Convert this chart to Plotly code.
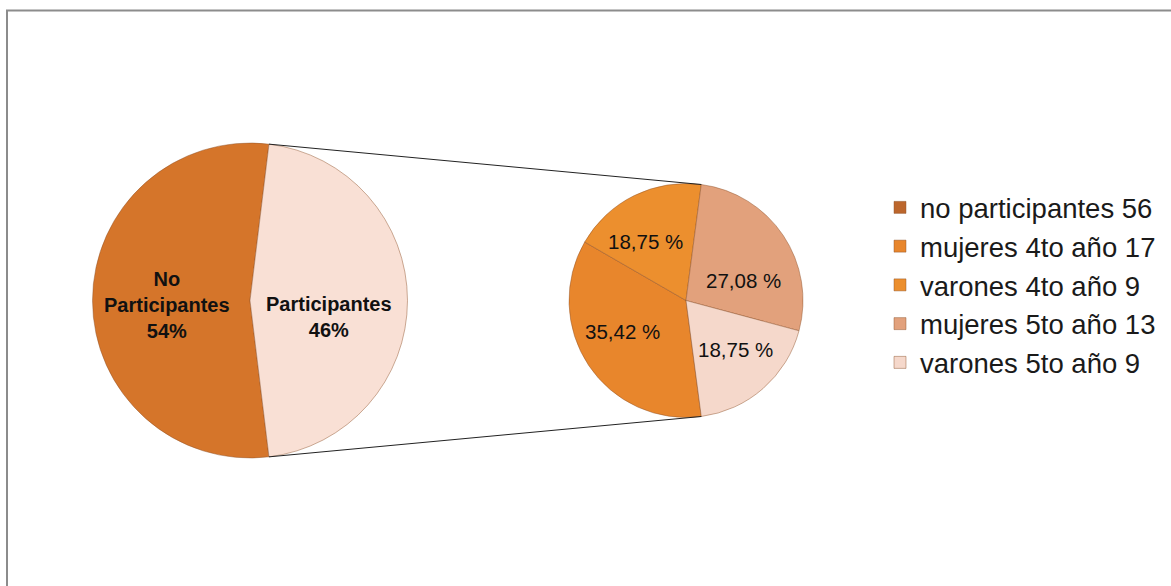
import math
import plotly.graph_objects as go

# Canvas
W, H = 1171, 586

# Main pie: participation overall
main_labels = ["No Participantes", "Participantes"]
main_values = [56, 48]
main_colors = ["#D5752A", "#F9E0D5"]

# Secondary pie: breakdown of participants (first entry only feeds the legend)
sub_labels = ["no participantes 56", "mujeres 4to año 17", "varones 4to año 9",
              "mujeres 5to año 13", "varones 5to año 9"]
sub_values = [0, 17, 9, 13, 9]
sub_colors = ["#BC662C", "#E8862C", "#EC8F2E", "#E2A17C", "#F5D8CB"]
sub_groups = ["", "4to", "4to", "5to", "5to"]

FONT = "Liberation Sans, Arial, sans-serif"

# Pie geometry in pixels (screen coords, y down)
MAIN_C, MAIN_R = (250.0, 300.5), 157.5
SUB_C, SUB_R = (686.0, 300.5), 117.0

# Data-label placement: (degrees off the slice bisector, fraction of radius)
MAIN_LABEL_PLACE = [(-3, 0.525), (12, 0.51)]
SUB_LABEL_PLACE = [None, (8, 0.606), (-8, 0.61), (15, 0.52), (-4, 0.60)]


def domain(c, r):
    cx, cy = c
    return dict(x=[(cx - r) / W, (cx + r) / W],
                y=[1 - (cy + r) / H, 1 - (cy - r) / H])


def point(c, r, deg):
    # angle clockwise from 12 o'clock, returned in paper coords
    a = math.radians(deg)
    x = c[0] + r * math.sin(a)
    y = c[1] - r * math.cos(a)
    return x / W, 1 - y / H


def bisectors(values, rotation):
    total = sum(values)
    out, start = [], rotation
    for v in values:
        span = v / total * 360
        out.append(start + span / 2)
        start += span
    return out


main_total = sum(main_values)
share_part = main_values[1] / main_total
main_rot = 90 + share_part * 180          # participants centred at 3 o'clock
main_text = ["No<br>Participantes<br>%d%%" % round(main_values[0] / main_total * 100),
             "Participantes<br>%d%%" % round(main_values[1] / main_total * 100)]

sub_total = sum(sub_values)
share_5to = sum(v for v, g in zip(sub_values, sub_groups) if g == "5to") / sub_total
sub_rot = 90 + share_5to * 180
sub_text = [("%.2f %%" % (v / sub_total * 100)).replace(".", ",") if v else ""
            for v in sub_values]

fig = go.Figure()

fig.add_trace(go.Pie(
    labels=main_labels, values=main_values, textinfo="none",
    marker=dict(colors=main_colors, line=dict(color="rgba(140,80,40,0.45)", width=1)),
    sort=False, direction="clockwise", rotation=main_rot,
    domain=domain(MAIN_C, MAIN_R), showlegend=False, hoverinfo="label+value",
))

fig.add_trace(go.Pie(
    labels=sub_labels, values=sub_values, textinfo="none",
    marker=dict(colors=sub_colors, line=dict(color="rgba(140,80,40,0.45)", width=1)),
    sort=False, direction="clockwise", rotation=sub_rot,
    domain=domain(SUB_C, SUB_R), showlegend=True, hoverinfo="label+value",
))

# Data labels
annotations = []
for txt, mid, place in zip(main_text, bisectors(main_values, main_rot), MAIN_LABEL_PLACE):
    x, y = point(MAIN_C, MAIN_R * place[1], mid + place[0])
    annotations.append(dict(x=x, y=y, xref="paper", yref="paper", text=txt,
                            showarrow=False, xanchor="center", yanchor="middle",
                            font=dict(family=FONT, size=20, color="#111111", weight="bold")))
for txt, mid, place in zip(sub_text, bisectors(sub_values, sub_rot), SUB_LABEL_PLACE):
    if not txt:
        continue
    x, y = point(SUB_C, SUB_R * place[1], mid + place[0])
    annotations.append(dict(x=x, y=y, xref="paper", yref="paper", text=txt,
                            showarrow=False, xanchor="center", yanchor="middle",
                            font=dict(family=FONT, size=20.5, color="#111111")))

# Connector lines between the participants slice and the secondary pie
main_top = main_rot + main_values[0] / main_total * 360
main_bot = main_rot
sub_top = sub_rot + (1 - share_5to) * 360
sub_bot = sub_rot
shapes = []
for a_main, a_sub in [(main_top, sub_top), (main_bot, sub_bot)]:
    x0, y0 = point(MAIN_C, MAIN_R, a_main)
    x1, y1 = point(SUB_C, SUB_R, a_sub)
    shapes.append(dict(type="line", xref="paper", yref="paper",
                       x0=x0, y0=y0, x1=x1, y1=y1,
                       line=dict(color="#222222", width=1)))

# Chart frame
shapes.append(dict(type="rect", xref="paper", yref="paper",
                   x0=7 / W, y0=-0.05, x1=1.05, y1=1 - 10.5 / H,
                   line=dict(color="#8C8C8C", width=2), layer="below"))

fig.update_layout(
    width=W, height=H,
    margin=dict(l=0, r=0, t=0, b=0),
    paper_bgcolor="white", plot_bgcolor="white",
    shapes=shapes, annotations=annotations,
    legend=dict(x=880 / W, y=1 - 183 / H, xanchor="left", yanchor="top",
                font=dict(family=FONT, size=27.5, color="#1A1A1A"),
                bgcolor="rgba(0,0,0,0)", traceorder="normal"),
)

fig.write_html("out.html")
